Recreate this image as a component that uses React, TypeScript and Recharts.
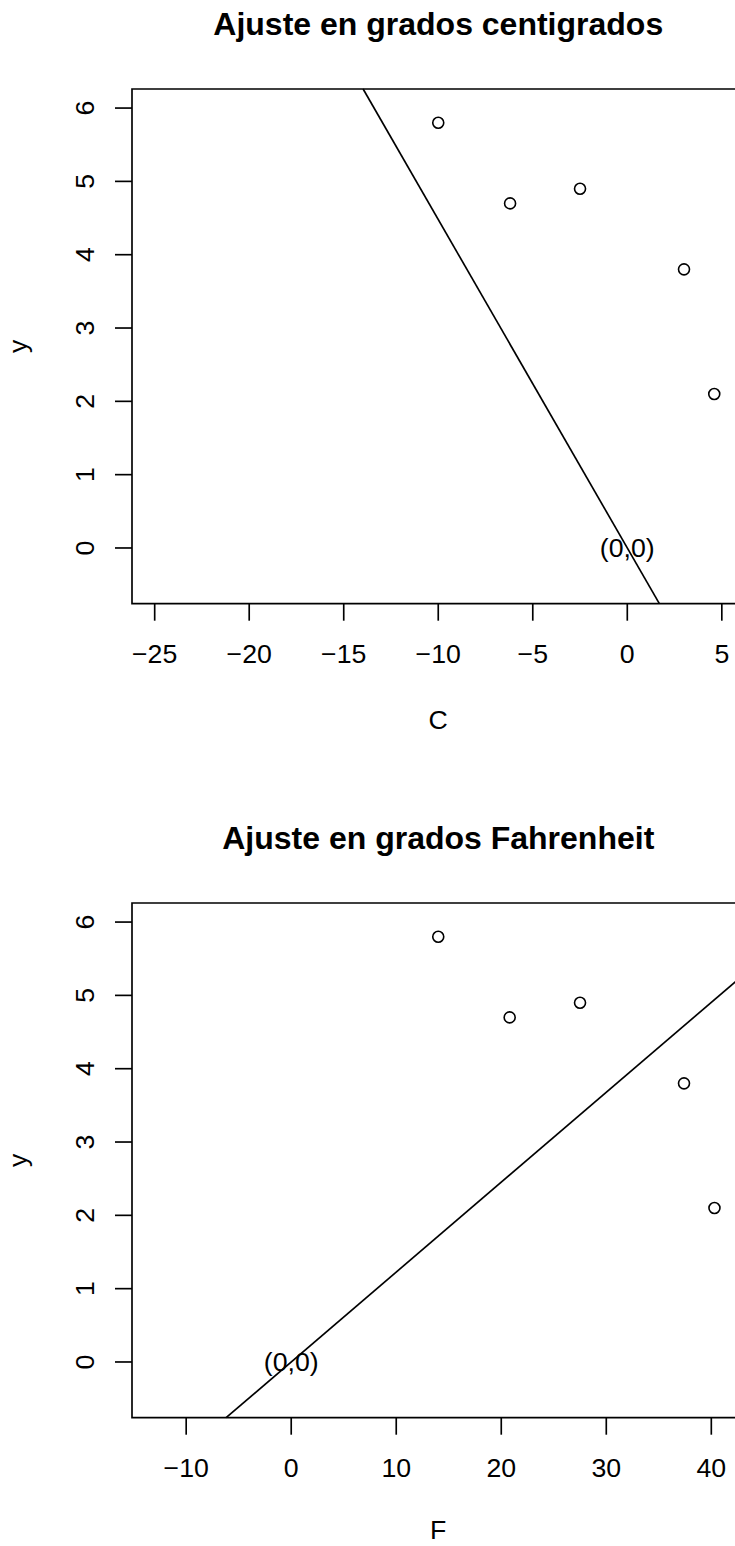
import React from 'react';
import { ScatterChart, Scatter, XAxis, YAxis, ReferenceLine, ReferenceArea, ReferenceDot } from 'recharts';

// Observations: temperature in both units and the response y
const celsius = [-10, -6.2, -2.5, 3, 4.6];
const fahrenheit = [14, 20.8, 27.5, 37.4, 40.3];
const yValues = [5.8, 4.7, 4.9, 3.8, 2.1];

const celsiusTicks = [-25, -20, -15, -10, -5, 0, 5];
const fahrenheitTicks = [-10, 0, 10, 20, 30, 40];
const yTicks = [0, 1, 2, 3, 4, 5, 6];

// axis limits already padded by 4% on each side, like base R plots
const celsiusDomain: [number, number] = [-26.2, 6.2];
const fahrenheitDomain: [number, number] = [-15.16, 43.16];
const yDomain: [number, number] = [-0.76, 6.26];

const FONT = '"Liberation Sans", Arial, Helvetica, sans-serif';
const AXIS_FONT = 26.7;
const LW = 1.67;

const CHART_W = 800;
const PLOT_TOP = 89;
const PLOT_LEFT = 132;
const PLOT_H = 514.7;
const PLOT_RIGHT_MARGIN = 55.5;
const PLOT_CX = PLOT_LEFT + (CHART_W - PLOT_LEFT - PLOT_RIGHT_MARGIN) / 2;

// least squares slope for a line forced through the origin (lm(y ~ x - 1))
const slopeThroughOrigin = (xs: number[], ys: number[]) =>
  xs.reduce((s, x, i) => s + x * ys[i], 0) / xs.reduce((s, x) => s + x * x, 0);

// endpoints of y = b*x inside the plotting box
const clipLine = (b: number, xd: [number, number], yd: [number, number]) => {
  const eps = 1e-9;
  const pts = [
    { x: xd[0], y: b * xd[0] },
    { x: xd[1], y: b * xd[1] },
    { x: yd[0] / b, y: yd[0] },
    { x: yd[1] / b, y: yd[1] },
  ].filter(p => p.x >= xd[0] - eps && p.x <= xd[1] + eps && p.y >= yd[0] - eps && p.y <= yd[1] + eps);
  pts.sort((a, c) => a.x - c.x);
  return [pts[0], pts[pts.length - 1]];
};

const fmt = (v: number) => (v < 0 ? '\u2212' + Math.abs(v) : String(v));

const YTick = (props: any) => {
  const { y, payload } = props;
  const cx = PLOT_LEFT - 17 - 30.5;
  return (
    <text
      x={cx}
      y={y}
      dy="0.36em"
      transform={`rotate(-90 ${cx} ${y})`}
      textAnchor="middle"
      fill="#000"
      fontSize={AXIS_FONT}
      fontFamily={FONT}
    >
      {fmt(payload.value)}
    </text>
  );
};

const OpenCircle = (props: any) => (
  <circle cx={props.cx} cy={props.cy} r={5.5} fill="none" stroke="#000" strokeWidth={1.6} />
);

interface PanelProps {
  title: string;
  xLabel: string;
  xLabelY: number;
  xs: number[];
  xTicks: number[];
  xDomain: [number, number];
  top: number;
  height: number;
}

const Panel: React.FC<PanelProps> = ({ title, xLabel, xLabelY, xs, xTicks, xDomain, top, height }) => {
  const data = xs.map((x, i) => ({ x, y: yValues[i] }));
  const b = slopeThroughOrigin(xs, yValues);
  const seg = clipLine(b, xDomain, yDomain);
  const yMid = PLOT_TOP + PLOT_H / 2;

  return (
    <div style={{ position: 'absolute', left: 0, top }}>
      <ScatterChart
        width={CHART_W}
        height={height}
        margin={{ top: PLOT_TOP, right: PLOT_RIGHT_MARGIN, bottom: 0, left: 0 }}
      >
        <XAxis
          dataKey="x"
          type="number"
          domain={xDomain}
          allowDataOverflow
          ticks={xTicks}
          interval={0}
          height={height - PLOT_TOP - PLOT_H}
          axisLine={false}
          tickSize={17}
          tickMargin={23.6}
          tickLine={{ stroke: '#000', strokeWidth: LW }}
          tick={{ fill: '#000', fontSize: AXIS_FONT, fontFamily: FONT }}
          tickFormatter={fmt}
        />
        <YAxis
          dataKey="y"
          type="number"
          domain={yDomain}
          allowDataOverflow
          ticks={yTicks}
          interval={0}
          width={PLOT_LEFT}
          axisLine={false}
          tickSize={17}
          tickMargin={0}
          tickLine={{ stroke: '#000', strokeWidth: LW }}
          tick={<YTick />}
        />
        <ReferenceArea
          x1={xDomain[0]}
          x2={xDomain[1]}
          y1={yDomain[0]}
          y2={yDomain[1]}
          fill="none"
          fillOpacity={0}
          stroke="#000"
          strokeWidth={LW}
          ifOverflow="visible"
        />
        <ReferenceLine
          segment={[seg[0], seg[1]]}
          stroke="#000"
          strokeWidth={LW}
          ifOverflow="visible"
        />
        <ReferenceDot
          x={0}
          y={0}
          r={0}
          fill="none"
          stroke="none"
          ifOverflow="visible"
          label={{ value: '(0,0)', position: 'center', fill: '#000', fontSize: AXIS_FONT, fontFamily: FONT }}
        />
        <Scatter data={data} shape={<OpenCircle />} isAnimationActive={false} />
        <text x={PLOT_CX} y={35} textAnchor="middle" fontWeight="bold" fontSize={32} fontFamily={FONT} fill="#000">
          {title}
        </text>
        <text x={PLOT_CX} y={xLabelY} textAnchor="middle" fontSize={AXIS_FONT} fontFamily={FONT} fill="#000">
          {xLabel}
        </text>
        <text
          x={27}
          y={yMid}
          transform={`rotate(-90 27 ${yMid})`}
          textAnchor="middle"
          fontSize={AXIS_FONT}
          fontFamily={FONT}
          fill="#000"
        >
          y
        </text>
      </ScatterChart>
    </div>
  );
};

export default function App() {
  return (
    <div
      style={{
        position: 'absolute',
        left: 0,
        top: 0,
        width: 735,
        height: 1546,
        overflow: 'hidden',
        background: '#fff',
      }}
    >
      <Panel
        title="Ajuste en grados centigrados"
        xLabel="C"
        xLabelY={728.5}
        xs={celsius}
        xTicks={celsiusTicks}
        xDomain={celsiusDomain}
        top={0}
        height={814}
      />
      <Panel
        title="Ajuste en grados Fahrenheit"
        xLabel="F"
        xLabelY={724.5}
        xs={fahrenheit}
        xTicks={fahrenheitTicks}
        xDomain={fahrenheitDomain}
        top={814}
        height={732}
      />
    </div>
  );
}
